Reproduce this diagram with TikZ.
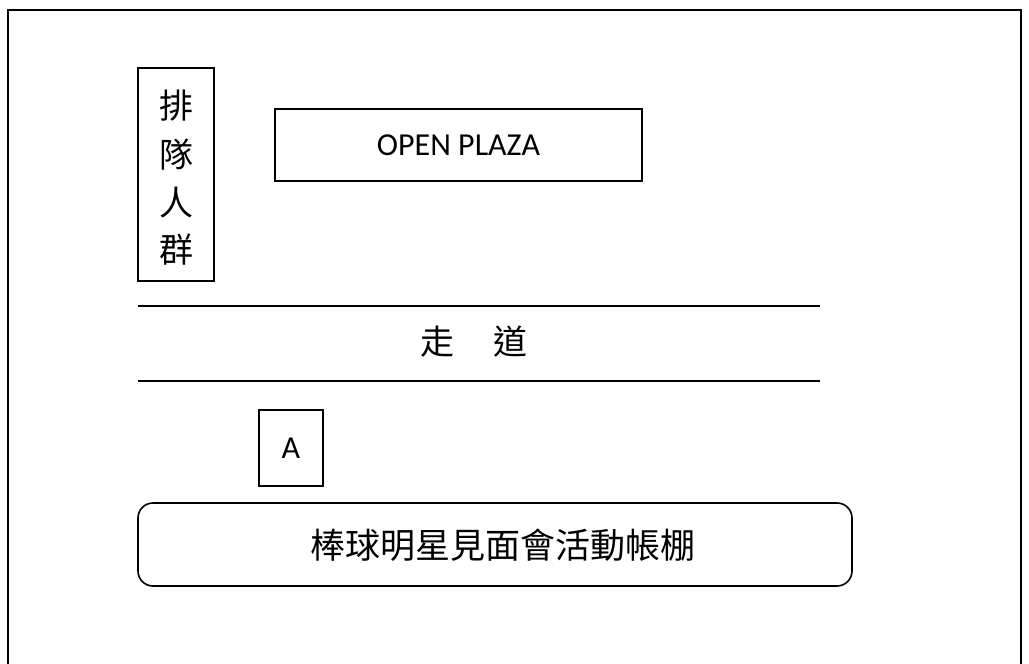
\documentclass[tikz,border=0pt]{standalone}
\usepackage{fontspec}
\setmainfont{Carlito}
\newfontfamily\cjk{Noto Sans CJK TC}
\begin{document}
\begin{tikzpicture}[x=1pt,y=-1pt,
  line/.style={line width=1.6pt},
  box/.style={draw,line width=1.6pt,inner sep=0pt,rectangle},
  cjkq/.style={font=\cjk\fontsize{34}{34}\selectfont,inner sep=0pt},
  lat/.style={font=\fontsize{32}{32}\selectfont,inner sep=0pt}]
\useasboundingbox (0,0) rectangle (1029,664);
% outer frame (open at bottom)
\coordinate (fbl) at (8,664);
\coordinate (ftl) at (8,10);
\coordinate (ftr) at (1021,10);
\coordinate (fbr) at (1021,664);
\draw[line] (fbl) -- (ftl) -- (ftr) -- (fbr);
% queue
\node[box,minimum width=76pt,minimum height=213pt] (queue) at (176,174.5) {};
\node[cjkq] (q1) at (176,106) {排};
\node[cjkq] (q2) at (176,155) {隊};
\node[cjkq] (q3) at (176,203) {人};
\node[cjkq] (q4) at (176,250) {群};
% open plaza
\node[box,minimum width=367pt,minimum height=72pt,lat] (plaza) at (458.5,145) {OPEN PLAZA};
% walkway
\coordinate (w1l) at (138,306);
\coordinate (w1r) at (820,306);
\coordinate (w2l) at (138,381);
\coordinate (w2r) at (820,381);
\draw[line] (w1l) -- (w1r);
\draw[line] (w2l) -- (w2r);
\node[cjkq] (walk1) at (437,342) {走};
\node[cjkq] (walk2) at (510,342) {道};
% A
\node[box,minimum width=64pt,minimum height=76pt,lat] (a) at (291,448) {A};
% tent
\node[draw,line width=1.6pt,rounded corners=15pt,minimum width=714pt,minimum height=83pt,inner sep=0pt] (tent) at (495,544.5) {};
\node[font=\cjk\fontsize{35}{35}\selectfont,inner sep=0pt] (tentlabel) at (503,545) {棒球明星見面會活動帳棚};
\end{tikzpicture}
\end{document}
